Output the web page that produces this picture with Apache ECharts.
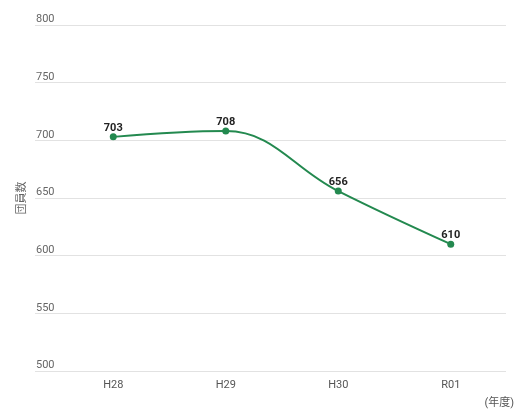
<!DOCTYPE html>
<html>
<head>
<meta charset="utf-8">
<script src="https://cdn.jsdelivr.net/npm/echarts@6/dist/echarts.min.js"></script>
<style>
  html, body { margin: 0; padding: 0; background: #fff; }
  #chart { width: 521px; height: 410px; }
</style>
</head>
<body>
<div id="chart"></div>
<script>
// 年度ごとの団員数
const years = ['H28', 'H29', 'H30', 'R01']
const members = [703, 708, 656, 610]
const yTicks = { min: 500, max: 800, step: 50 }

const GREEN = '#23894f'
const FONT = 'Roboto, "Noto Sans CJK JP", sans-serif'

const chart = echarts.init(document.getElementById('chart'), null, { renderer: 'canvas' })

chart.setOption({
  backgroundColor: '#fff',
  animation: false,
  textStyle: { fontFamily: FONT },
  grid: [
    // 目盛り線用（左まで伸ばす）
    { left: 35, right: 15, top: 25, bottom: 39 },
    // 折れ線用
    { left: 57, right: 14, top: 25, bottom: 39 },
  ],
  xAxis: [
    { gridIndex: 0, type: 'value', show: false },
    {
      gridIndex: 1,
      type: 'category',
      data: years,
      boundaryGap: true,
      axisLine: { show: false },
      axisTick: { show: false },
      axisLabel: { color: '#555', fontSize: 11, margin: 9 },
    },
  ],
  yAxis: [
    {
      gridIndex: 0,
      type: 'value',
      min: yTicks.min,
      max: yTicks.max,
      interval: yTicks.step,
      axisLine: { show: false },
      axisTick: { show: false },
      axisLabel: {
        inside: true,
        verticalAlign: 'bottom',
        margin: 1,
        color: '#666',
        fontSize: 11,
      },
      splitLine: { lineStyle: { color: '#e2e2e2', width: 1 } },
    },
    {
      gridIndex: 1,
      type: 'value',
      min: yTicks.min,
      max: yTicks.max,
      interval: yTicks.step,
      show: false,
      splitLine: { show: false },
    },
  ],
  graphic: [
    {
      type: 'text',
      x: 22,
      y: 198,
      rotation: Math.PI / 2,
      style: {
        text: '団員数', fill: '#666', fontSize: 11, fontFamily: FONT,
        align: 'center', verticalAlign: 'middle',
      },
    },
    {
      type: 'text',
      right: 7,
      top: 398,
      style: { text: '(年度)', fill: '#555', fontSize: 11, fontFamily: FONT },
    },
  ],
  series: [
    {
      type: 'line',
      xAxisIndex: 1,
      yAxisIndex: 1,
      data: members,
      smooth: 0.4,
      symbol: 'circle',
      symbolSize: 7,
      lineStyle: { color: GREEN, width: 2 },
      itemStyle: { color: GREEN },
      label: {
        show: true,
        position: 'top',
        distance: 0,
        color: '#222',
        fontSize: 11,
        fontWeight: 'bold',
      },
    },
  ],
})
</script>
</body>
</html>
